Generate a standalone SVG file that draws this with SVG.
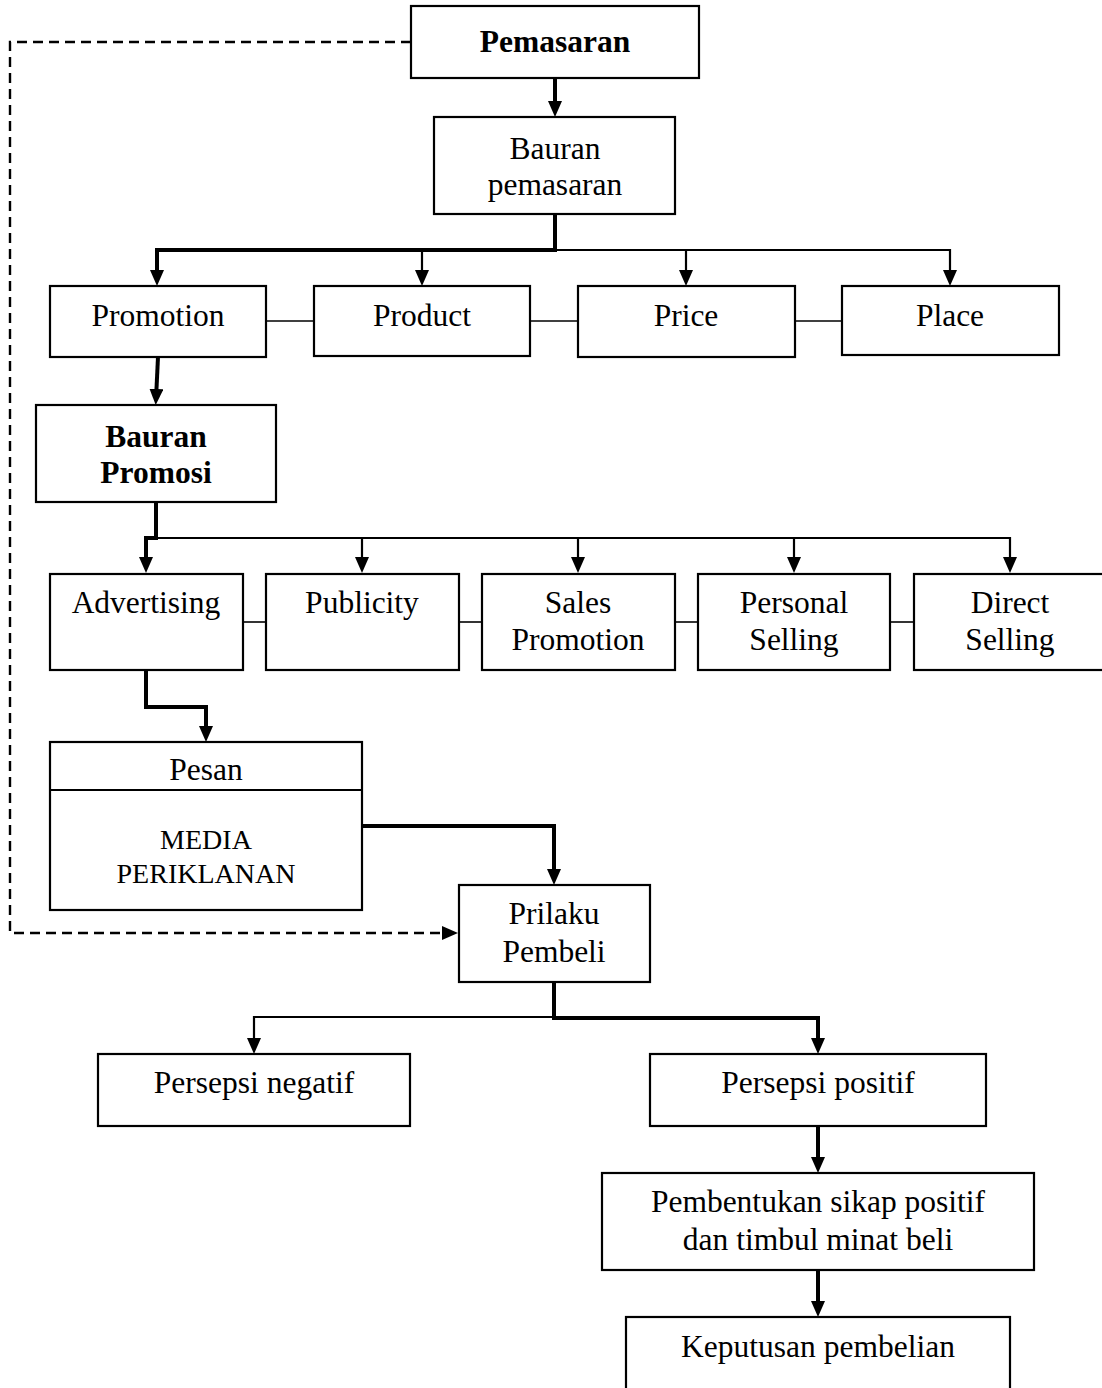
<svg xmlns="http://www.w3.org/2000/svg" width="1102" height="1388" viewBox="0 0 1102 1388">
<style>
.box{fill:#fff;stroke:#000;stroke-width:2.2}
.t{font-family:"Liberation Serif","Times New Roman",serif;font-size:31.5px;text-anchor:middle;fill:#000}
.b{font-weight:bold}
.thick{fill:none;stroke:#000;stroke-width:4}
.thin{fill:none;stroke:#000;stroke-width:2.2}
.link{fill:none;stroke:#000;stroke-width:1.6}
.dash{fill:none;stroke:#000;stroke-width:2.4;stroke-dasharray:10 6}
</style>
<defs>
<marker id="ah" markerUnits="userSpaceOnUse" markerWidth="17" markerHeight="15" refX="10" refY="7" orient="auto" viewBox="0 0 17 15">
<path d="M0,0 L16,7 L0,14 z" fill="#000"/>
</marker>
</defs>
<rect width="1102" height="1388" fill="#fff"/>
<g id="connectors">
<path class="dash" d="M411,42 H10 V933 H452" marker-end="url(#ah)"/>
<path class="thick" d="M555,78 V111" marker-end="url(#ah)"/>
<path class="thick" d="M555,214 V250 H157 V280" marker-end="url(#ah)"/>
<path class="thin" d="M555,250 H950 V280" marker-end="url(#ah)"/>
<path class="thin" d="M422,250 V280" marker-end="url(#ah)"/>
<path class="thin" d="M686,250 V280" marker-end="url(#ah)"/>
<path class="link" d="M266,321 H314"/>
<path class="link" d="M530,321 H578"/>
<path class="link" d="M795,321 H842"/>
<path class="thick" d="M158,357 L156,399" marker-end="url(#ah)"/>
<path class="thick" d="M156,502 V538 H146 V567" marker-end="url(#ah)"/>
<path class="thin" d="M156,538 H1010 V567" marker-end="url(#ah)"/>
<path class="thin" d="M362,538 V567" marker-end="url(#ah)"/>
<path class="thin" d="M578,538 V567" marker-end="url(#ah)"/>
<path class="thin" d="M794,538 V567" marker-end="url(#ah)"/>
<path class="link" d="M243,622 H266"/>
<path class="link" d="M459,622 H482"/>
<path class="link" d="M675,622 H698"/>
<path class="link" d="M890,622 H914"/>
<path class="thick" d="M146,670 V707 H206 V736" marker-end="url(#ah)"/>
<path class="thick" d="M362,826 H554 V879" marker-end="url(#ah)"/>
<path class="thick" d="M554,982 V1018 H818 V1048" marker-end="url(#ah)"/>
<path class="thin" d="M554,1017 H254 V1048" marker-end="url(#ah)"/>
<path class="thick" d="M818,1126 V1167" marker-end="url(#ah)"/>
<path class="thick" d="M818,1270 V1311" marker-end="url(#ah)"/>
</g>
<g id="pemasaran"><rect class="box" x="411" y="6" width="288" height="72"/><text class="t b" x="555" y="52">Pemasaran</text></g>
<g id="bauran-pemasaran"><rect class="box" x="434" y="117" width="241" height="97"/><text class="t" x="555" y="159">Bauran</text><text class="t" x="555" y="195">pemasaran</text></g>
<g id="promotion"><rect class="box" x="50" y="286" width="216" height="71"/><text class="t" x="158" y="326">Promotion</text></g>
<g id="product"><rect class="box" x="314" y="286" width="216" height="70"/><text class="t" x="422" y="326">Product</text></g>
<g id="price"><rect class="box" x="578" y="286" width="217" height="71"/><text class="t" x="686" y="326">Price</text></g>
<g id="place"><rect class="box" x="842" y="286" width="217" height="69"/><text class="t" x="950" y="326">Place</text></g>
<g id="bauran-promosi"><rect class="box" x="36" y="405" width="240" height="97"/><text class="t b" x="156" y="447">Bauran</text><text class="t b" x="156" y="483">Promosi</text></g>
<g id="advertising"><rect class="box" x="50" y="574" width="193" height="96"/><text class="t" x="146" y="613">Advertising</text></g>
<g id="publicity"><rect class="box" x="266" y="574" width="193" height="96"/><text class="t" x="362" y="613">Publicity</text></g>
<g id="sales-promotion"><rect class="box" x="482" y="574" width="193" height="96"/><text class="t" x="578" y="613">Sales</text><text class="t" x="578" y="650">Promotion</text></g>
<g id="personal-selling"><rect class="box" x="698" y="574" width="192" height="96"/><text class="t" x="794" y="613">Personal</text><text class="t" x="794" y="650">Selling</text></g>
<g id="direct-selling"><rect class="box" x="914" y="574" width="194" height="96"/><text class="t" x="1010" y="613">Direct</text><text class="t" x="1010" y="650">Selling</text></g>
<g id="pesan"><rect class="box" x="50" y="742" width="312" height="168"/><line x1="50" y1="790" x2="362" y2="790" stroke="#000" stroke-width="2.2"/><text class="t" x="206" y="780">Pesan</text><text class="t" x="206" y="849" style="font-size:28px">MEDIA</text><text class="t" x="206" y="883" style="font-size:28px">PERIKLANAN</text></g>
<g id="prilaku-pembeli"><rect class="box" x="459" y="885" width="191" height="97"/><text class="t" x="554" y="924">Prilaku</text><text class="t" x="554" y="962">Pembeli</text></g>
<g id="persepsi-negatif"><rect class="box" x="98" y="1054" width="312" height="72"/><text class="t" x="254" y="1093">Persepsi negatif</text></g>
<g id="persepsi-positif"><rect class="box" x="650" y="1054" width="336" height="72"/><text class="t" x="818" y="1093">Persepsi positif</text></g>
<g id="pembentukan-sikap"><rect class="box" x="602" y="1173" width="432" height="97"/><text class="t" x="818" y="1212">Pembentukan sikap positif</text><text class="t" x="818" y="1250">dan timbul minat beli</text></g>
<g id="keputusan-pembelian"><rect class="box" x="626" y="1317" width="384" height="80"/><text class="t" x="818" y="1357">Keputusan pembelian</text></g>
</svg>
